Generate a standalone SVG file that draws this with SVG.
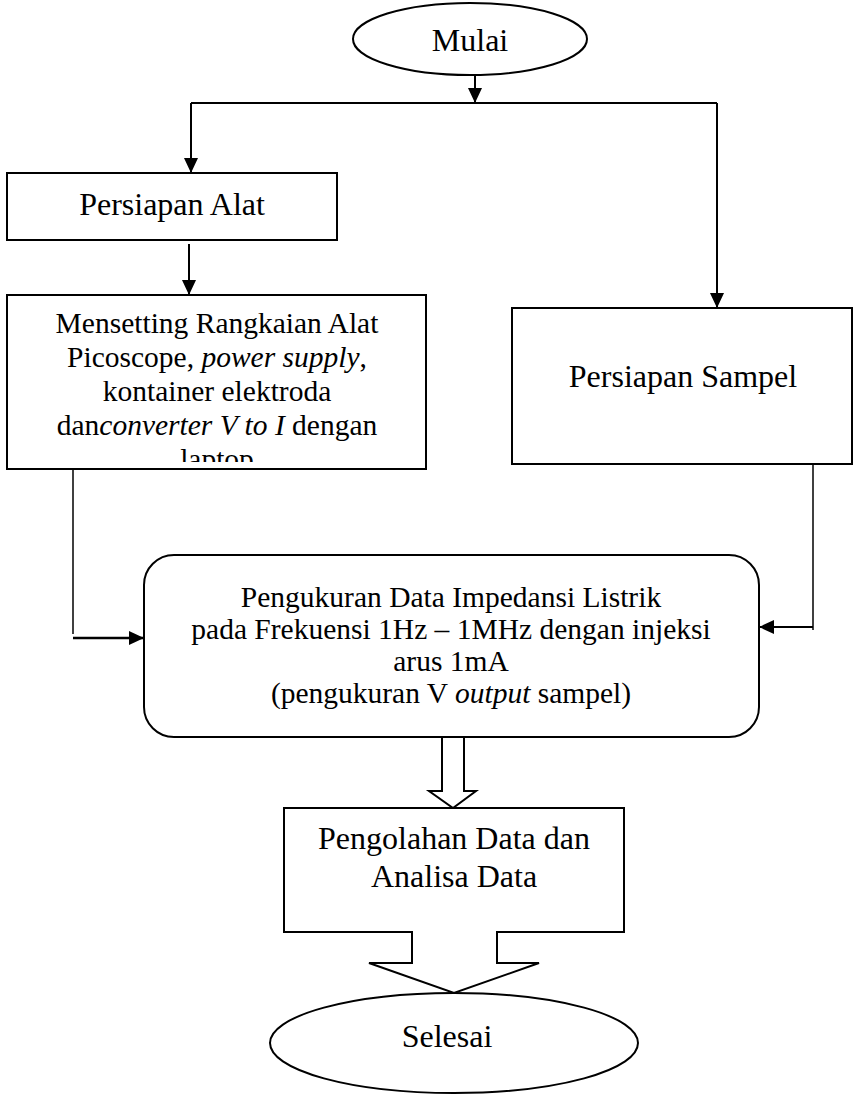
<svg xmlns="http://www.w3.org/2000/svg" width="853" height="1096" viewBox="0 0 853 1096">
<style>
.shape{fill:#fff;stroke:#000;stroke-width:2}
.line{fill:none;stroke:#000;stroke-width:2}
.thin{fill:none;stroke:#000;stroke-width:1.5}
.t{font-family:"Liberation Serif","Times New Roman",serif;font-size:32px;fill:#000;text-anchor:middle}
.s{font-size:29.5px}
</style>
<defs>
<marker id="ah" markerUnits="userSpaceOnUse" markerWidth="15" markerHeight="14" refX="15" refY="7" orient="auto">
<path d="M0,0 L15,7 L0,14 z" fill="#000"/>
</marker>
<clipPath id="clipM"><rect x="7" y="295" width="419" height="167"/></clipPath>
</defs>
<rect width="853" height="1096" fill="#fff"/>
<g id="connectors">
<path class="line" d="M475,74 V103" marker-end="url(#ah)"/>
<path class="line" d="M191,103 H717"/>
<path class="line" d="M191,103 V173" marker-end="url(#ah)"/>
<path class="line" d="M717,103 V308" marker-end="url(#ah)"/>
<path class="line" d="M189,244 V295" marker-end="url(#ah)"/>
<path class="thin" d="M73,469 V634"/>
<path class="line" d="M73,638 H144" marker-end="url(#ah)" style="stroke-width:2.5"/>
<path class="thin" d="M813,465 V630"/>
<path class="line" d="M813,627 H759" marker-end="url(#ah)"/>
<polygon id="blockArrow" class="shape" points="442,737 464,737 464,791 476,791 453,808 429,791 442,791"/>
</g>
<g id="mulai">
<ellipse class="shape" cx="470" cy="39" rx="117" ry="36"/>
<text class="t" x="470" y="51">Mulai</text>
</g>
<g id="persiapanAlat">
<rect class="shape" x="7" y="173" width="330" height="67"/>
<text class="t" x="172" y="215">Persiapan Alat</text>
</g>
<g id="mensetting">
<rect class="shape" x="7" y="295" width="419" height="174"/>
<g clip-path="url(#clipM)">
<text class="t s" x="217" y="333">Mensetting Rangkaian Alat</text>
<text class="t s" x="217" y="367">Picoscope, <tspan font-style="italic">power supply</tspan>,</text>
<text class="t s" x="217" y="401">kontainer elektroda</text>
<text class="t s" x="217" y="435">dan<tspan font-style="italic">converter V to I</tspan> dengan</text>
<text class="t s" x="217" y="469">laptop</text>
</g>
</g>
<g id="persiapanSampel">
<rect class="shape" x="512" y="308" width="340" height="156"/>
<text class="t" x="683" y="387">Persiapan Sampel</text>
</g>
<g id="pengukuran">
<rect class="shape" x="144" y="555" width="615" height="182" rx="30" ry="30"/>
<text class="t s" x="451" y="607">Pengukuran Data Impedansi Listrik</text>
<text class="t s" x="451" y="639">pada Frekuensi 1Hz – 1MHz dengan injeksi</text>
<text class="t s" x="451" y="671">arus 1mA</text>
<text class="t s" x="451" y="703">(pengukuran V <tspan font-style="italic">output</tspan> sampel)</text>
</g>
<g id="pengolahan">
<path class="shape" d="M284,808 H624 V932 H497 V963 H539 L454,993 L369,963 H412 V932 H284 Z"/>
<text class="t" x="454" y="849">Pengolahan Data dan</text>
<text class="t" x="454" y="887">Analisa Data</text>
</g>
<g id="selesai">
<ellipse class="shape" cx="454" cy="1043" rx="184" ry="50"/>
<text class="t" x="447" y="1047">Selesai</text>
</g>
</svg>
